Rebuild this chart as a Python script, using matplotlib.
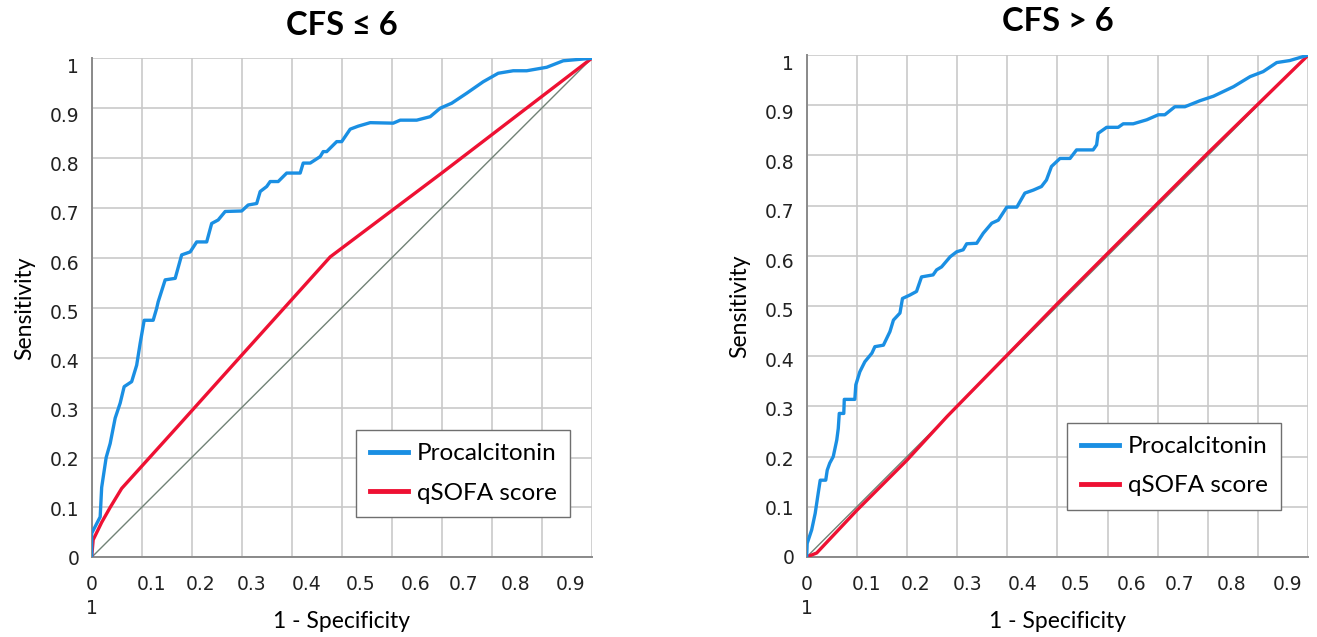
import matplotlib
matplotlib.use("Agg")
import matplotlib.pyplot as plt
from matplotlib.ticker import FixedLocator, NullFormatter, FixedFormatter

# ---------------- data ----------------
titles = ["CFS \u2264 6", "CFS > 6"]
series_names = ["Procalcitonin", "qSOFA score"]

x_tick_labels = ["0\n1", "0.1", "0.2", "0.3", "0.4", "0.5", "0.6", "0.7", "0.8", "0.9"]
y_tick_labels = ["0", "0.1", "0.2", "0.3", "0.4", "0.5", "0.6", "0.7", "0.8", "0.9", "1"]

# Left panel (CFS <= 6)
pct_left_x = [0, 0, 0.017, 0.02, 0.029, 0.037, 0.047, 0.057, 0.065, 0.08, 0.09, 0.097, 0.105,
              0.123, 0.13, 0.133, 0.147, 0.167, 0.18, 0.197, 0.21, 0.23, 0.24, 0.253, 0.267,
              0.30, 0.313, 0.33, 0.337, 0.35, 0.357, 0.373, 0.39, 0.417, 0.423, 0.437, 0.457,
              0.463, 0.47, 0.49, 0.50, 0.517, 0.533, 0.557, 0.603, 0.617, 0.65, 0.677, 0.697,
              0.72, 0.75, 0.783, 0.813, 0.843, 0.87, 0.91, 0.943, 1.0]
pct_left_y = [0, 0.048, 0.081, 0.14, 0.20, 0.228, 0.279, 0.309, 0.342, 0.352, 0.385, 0.429, 0.475,
              0.475, 0.499, 0.512, 0.556, 0.559, 0.606, 0.612, 0.632, 0.632, 0.669, 0.676, 0.693,
              0.694, 0.706, 0.709, 0.733, 0.743, 0.753, 0.753, 0.77, 0.77, 0.79, 0.79, 0.803,
              0.813, 0.813, 0.833, 0.833, 0.858, 0.864, 0.871, 0.870, 0.876, 0.876, 0.883, 0.90,
              0.91, 0.93, 0.953, 0.97, 0.975, 0.975, 0.982, 0.995, 1.0]
qsofa_left_x = [0, 0.003, 0.02, 0.037, 0.06, 0.17, 0.30, 0.477, 0.70, 1.0]
qsofa_left_y = [0, 0.035, 0.07, 0.10, 0.138, 0.26, 0.405, 0.602, 0.77, 1.0]

# Right panel (CFS > 6)
pct_right_x = [0, 0.001, 0.01, 0.017, 0.023, 0.027, 0.038, 0.041, 0.046, 0.053, 0.06, 0.063, 0.065,
               0.074, 0.075, 0.096, 0.098, 0.106, 0.116, 0.13, 0.136, 0.153, 0.166, 0.173, 0.186,
               0.191, 0.206, 0.219, 0.229, 0.252, 0.259, 0.269, 0.286, 0.299, 0.312, 0.319, 0.339,
               0.352, 0.369, 0.382, 0.399, 0.419, 0.435, 0.452, 0.468, 0.478, 0.488, 0.505, 0.525,
               0.538, 0.571, 0.578, 0.581, 0.598, 0.621, 0.631, 0.651, 0.678, 0.701, 0.714, 0.734,
               0.754, 0.784, 0.811, 0.851, 0.884, 0.91, 0.937, 0.963, 1.0]
pct_right_y = [0, 0.027, 0.054, 0.087, 0.127, 0.153, 0.153, 0.173, 0.187, 0.20, 0.233, 0.256, 0.286,
               0.286, 0.314, 0.314, 0.343, 0.369, 0.389, 0.406, 0.419, 0.422, 0.449, 0.472, 0.486,
               0.515, 0.522, 0.529, 0.558, 0.562, 0.572, 0.578, 0.598, 0.608, 0.612, 0.624, 0.625,
               0.645, 0.665, 0.671, 0.697, 0.697, 0.725, 0.731, 0.738, 0.751, 0.778, 0.794, 0.794,
               0.811, 0.811, 0.821, 0.844, 0.856, 0.856, 0.863, 0.863, 0.871, 0.881, 0.881, 0.897,
               0.897, 0.909, 0.918, 0.937, 0.957, 0.967, 0.985, 0.989, 1.0]
qsofa_right_x = [0, 0.02, 0.1, 0.2, 0.28, 0.5, 0.8, 1.0]
qsofa_right_y = [0, 0.008, 0.093, 0.193, 0.28, 0.505, 0.805, 1.0]

panels = [
    (pct_left_x, pct_left_y, qsofa_left_x, qsofa_left_y),
    (pct_right_x, pct_right_y, qsofa_right_x, qsofa_right_y),
]

# ---------------- style ----------------
BLUE = "#1a8fe3"
RED = "#ee1133"
GRID = "#c9c9c9"
SPINE = "#8a8a8a"
DIAG = "#718276"
SANS = ["Lato", "DejaVu Sans"]

fig = plt.figure(figsize=(13.17, 6.37), dpi=100)
axes_rects = [
    [0.0696, 0.1251, 0.3797, 0.7834],
    [0.6125, 0.1256, 0.3809, 0.7880],
]
legend_anchor = [(0.957, 0.081), (0.946, 0.094)]

major = [i / 10 for i in range(11)]
x_label_pos = [0.0, 0.12, 0.217, 0.32, 0.43, 0.537, 0.647, 0.743, 0.847, 0.958]
y_label_pos = [v * 0.986 for v in major]

for k, (px, py, qx, qy) in enumerate(panels):
    ax = fig.add_axes(axes_rects[k])
    ax.set_xlim(0, 1)
    ax.set_ylim(0, 1)
    ax.xaxis.remove_overlapping_locs = False
    ax.yaxis.remove_overlapping_locs = False

    ax.xaxis.set_major_locator(FixedLocator(major))
    ax.yaxis.set_major_locator(FixedLocator(major))
    ax.xaxis.set_major_formatter(NullFormatter())
    ax.yaxis.set_major_formatter(NullFormatter())
    ax.xaxis.set_minor_locator(FixedLocator(x_label_pos))
    ax.yaxis.set_minor_locator(FixedLocator(y_label_pos))
    ax.xaxis.set_minor_formatter(FixedFormatter(x_tick_labels))
    ax.yaxis.set_minor_formatter(FixedFormatter(y_tick_labels))
    ax.tick_params(which="both", length=0)
    ax.tick_params(axis="x", which="minor", pad=13, labelsize=13.5, colors="#222222")
    ax.tick_params(axis="y", which="minor", pad=9, labelsize=13.5, colors="#222222")
    for lab in ax.get_xticklabels(minor=True):
        lab.set_linespacing(1.3)
    ax.grid(True, which="major", color=GRID, linewidth=1.2)
    ax.grid(False, which="minor")
    ax.set_axisbelow(True)

    for s in ["top", "right"]:
        ax.spines[s].set_visible(False)
    for s in ["left", "bottom"]:
        ax.spines[s].set_color(SPINE)
        ax.spines[s].set_linewidth(1.4)

    ax.plot([0, 1], [0, 1], color=DIAG, linewidth=1.0, zorder=2)
    ax.plot(qx, qy, color=RED, linewidth=2.4, zorder=3, label=series_names[1],
            solid_joinstyle="round")
    ax.plot(px, py, color=BLUE, linewidth=2.4, zorder=4, label=series_names[0],
            solid_joinstyle="round")

    handles, labels = ax.get_legend_handles_labels()
    order = [1, 0]
    leg = ax.legend([handles[i] for i in order], [labels[i] for i in order],
                    loc="lower right", bbox_to_anchor=legend_anchor[k],
                    borderaxespad=0, fancybox=False, framealpha=1, edgecolor="#6f6f6f",
                    prop={"family": SANS, "size": 17.5}, handlelength=1.6,
                    handletextpad=0.35, borderpad=0.55, labelspacing=0.75)
    leg.get_frame().set_linewidth(1.0)
    for line in leg.get_lines():
        line.set_linewidth(3.5)

    ax.set_title(titles[k], fontsize=23.5, fontweight="bold", family=SANS, pad=17)
    ax.set_xlabel("1 - Specificity", fontsize=16.5, family=SANS)
    ax.xaxis.set_label_coords(0.5, -0.128)
    ax.xaxis.label.set_verticalalignment("center")
    ax.set_ylabel("Sensitivity", fontsize=16.5, family=SANS, labelpad=10)

fig.savefig("out.png", dpi=100)
